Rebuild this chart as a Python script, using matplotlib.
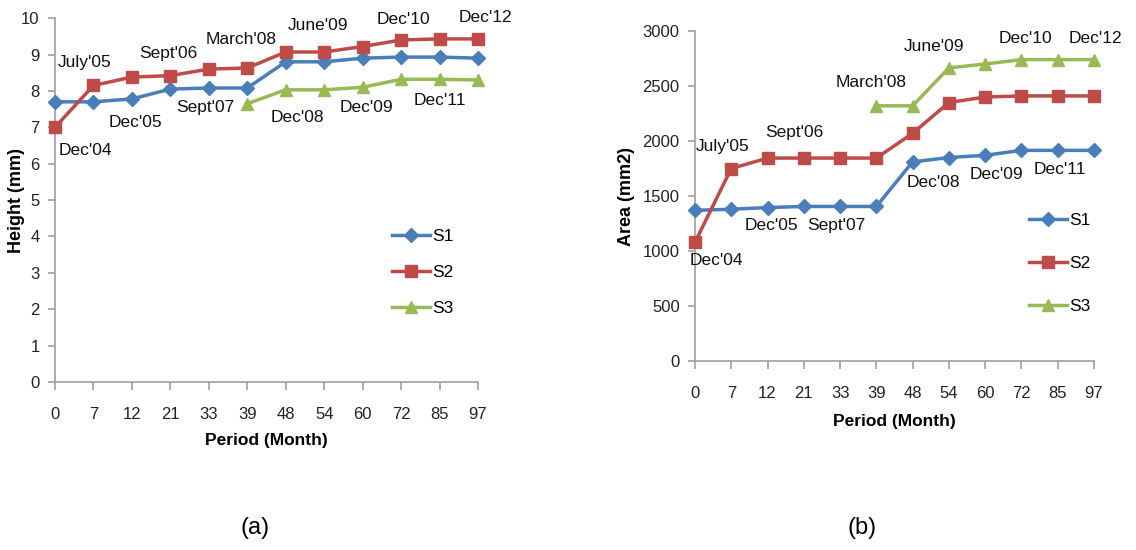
import matplotlib.pyplot as plt
import numpy as np

plt.rcParams['font.family'] = ['Liberation Sans', 'DejaVu Sans']

months = ['0', '7', '12', '21', '33', '39', '48', '54', '60', '72', '85', '97']
dates = ["Dec'04", "July'05", "Dec'05", "Sept'06", "Sept'07", "March'08",
         "Dec'08", "June'09", "Dec'09", "Dec'10", "Dec'11", "Dec'12"]

height_s1 = [7.7, 7.7, 7.78, 8.05, 8.08, 8.08, 8.8, 8.8, 8.9, 8.93, 8.93, 8.9]
height_s2 = [7.0, 8.15, 8.38, 8.42, 8.6, 8.63, 9.07, 9.07, 9.22, 9.4, 9.43, 9.43]
height_s3 = [np.nan] * 5 + [7.65, 8.03, 8.03, 8.1, 8.32, 8.32, 8.3]

area_s1 = [1370, 1380, 1395, 1405, 1405, 1405, 1810, 1850, 1870, 1915, 1915, 1915]
area_s2 = [1080, 1750, 1845, 1845, 1845, 1845, 2070, 2350, 2400, 2410, 2410, 2410]
area_s3 = [np.nan] * 5 + [2320, 2320, 2665, 2700, 2740, 2740, 2740]

# label positions (category index, value)
height_lbl_x = [0.8, 0.78, 2.1, 2.95, 3.9, 4.85, 6.3, 6.85, 8.1, 9.05, 10.0, 11.2]
height_lbl_y = [6.37, 8.77, 7.12, 9.04, 7.55, 9.4, 7.28, 9.8, 7.55, 9.95, 7.75, 10.03]
area_lbl_x = [0.6, 0.77, 2.1, 2.75, 3.9, 4.85, 6.58, 6.6, 8.3, 9.1, 10.05, 11.05]
area_lbl_y = [910, 1950, 1230, 2080, 1230, 2530, 1620, 2860, 1700, 2930, 1740, 2930]

blue = '#4A7EBB'
red = '#BE4B48'
green = '#98B954'
axis_gray = '#A0A0A0'

fig = plt.figure(figsize=(11.36, 5.5), dpi=100)
ax1 = fig.add_axes([0.0484, 0.3055, 0.3724, 0.6615])
ax2 = fig.add_axes([0.6118, 0.3436, 0.3512, 0.600])

x = np.arange(len(months))


def style_axis(ax, ylim, yticks, ylabel, ylab_x, xlab_y):
    ax.set_xlim(0, len(months) - 1)
    ax.set_ylim(*ylim)
    ax.set_yticks(yticks)
    ax.set_xticks(x)
    ax.set_xticklabels(months)
    for s in ['top', 'right']:
        ax.spines[s].set_visible(False)
    for s in ['left', 'bottom']:
        ax.spines[s].set_color(axis_gray)
        ax.spines[s].set_linewidth(1.2)
    ax.tick_params(axis='x', colors=axis_gray, length=6, width=1.2,
                   labelcolor='#222222', labelsize=12, pad=12)
    ax.tick_params(axis='y', colors=axis_gray, length=5, width=1.2,
                   labelcolor='#222222', labelsize=12, pad=6)
    ax.set_xlabel('Period (Month)', fontsize=12.5, fontweight='bold')
    ax.set_ylabel(ylabel, fontsize=13, fontweight='bold')
    ax.yaxis.set_label_coords(ylab_x, 0.5)
    ax.xaxis.set_label_coords(0.5, xlab_y)


def draw(ax, s1, s2, s3, lx, ly):
    ax.plot(x, s1, color=blue, lw=2.5, marker='D', ms=7, label='S1', clip_on=False, zorder=3)
    ax.plot(x, s2, color=red, lw=2.5, marker='s', ms=9, label='S2', clip_on=False, zorder=3)
    ax.plot(x, s3, color=green, lw=2.5, marker='^', ms=9, label='S3', clip_on=False, zorder=3)
    for i, d in enumerate(dates):
        ax.text(lx[i], ly[i], d, ha='center', va='center', fontsize=12.5, color='#111111')


draw(ax1, height_s1, height_s2, height_s3, height_lbl_x, height_lbl_y)
style_axis(ax1, (0, 10), range(0, 11), 'Height (mm)', -0.07, -0.14)
ax1.legend(loc='upper left', bbox_to_anchor=(0.78, 0.44), frameon=False,
           fontsize=12.5, handlelength=2.2, handletextpad=0.1, labelspacing=1.2,
           borderaxespad=0)

draw(ax2, area_s1, area_s2, area_s3, area_lbl_x, area_lbl_y)
style_axis(ax2, (0, 3000), range(0, 3001, 500), 'Area (mm2)', -0.15, -0.16)
ax2.legend(loc='upper left', bbox_to_anchor=(0.82, 0.47), frameon=False,
           fontsize=12.5, handlelength=2.2, handletextpad=0.1, labelspacing=1.6,
           borderaxespad=0)

fig.text(255 / 1136, 1 - 528 / 550, '(a)', ha='center', va='center', fontsize=17)
fig.text(862 / 1136, 1 - 528 / 550, '(b)', ha='center', va='center', fontsize=17)

fig.savefig('out.png', dpi=100)
